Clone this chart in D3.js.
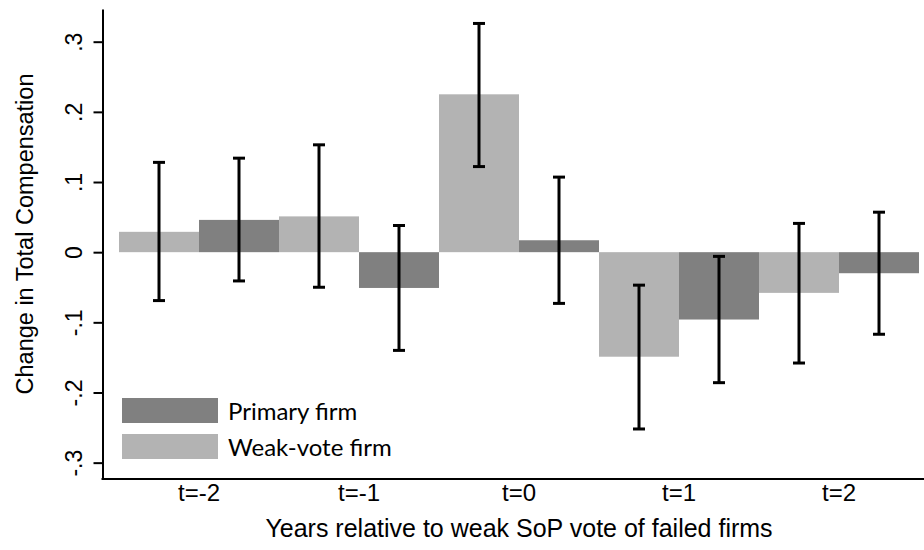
<!DOCTYPE html>
<html>
<head>
<meta charset="utf-8">
<script src="https://cdn.jsdelivr.net/npm/d3@7"></script>
<style>
  body { margin: 0; background: #fff; }
  svg { display: block; }
  text { font-family: "Liberation Sans", Arial, sans-serif; fill: #000; }
</style>
</head>
<body>
<div id="root"></div>
<script>
// data
const periods = ["t=-2", "t=-1", "t=0", "t=1", "t=2"];
const series = ["weak", "primary"];
const seriesNames = { primary: "Primary firm", weak: "Weak-vote firm" };

const weakVals = [0.029, 0.051, 0.225, -0.149, -0.058];
const weakLo   = [-0.069, -0.050, 0.122, -0.252, -0.158];
const weakHi   = [0.128, 0.153, 0.326, -0.047, 0.041];

const primaryVals = [0.046, -0.051, 0.017, -0.096, -0.030];
const primaryLo   = [-0.041, -0.140, -0.073, -0.186, -0.117];
const primaryHi   = [0.134, 0.038, 0.107, -0.006, 0.057];

const yTicks = [-0.3, -0.2, -0.1, 0, 0.1, 0.2, 0.3];
const yTickLabels = ["-.3", "-.2", "-.1", "0", ".1", ".2", ".3"];

const colors = { primary: "#808080", weak: "#b3b3b3" };

const width = 924;
const height = 550;

const svg = d3.select("#root")
  .append("svg")
    .attr("width", width)
    .attr("height", height);

const xScale = d3.scaleBand()
  .domain(periods)
  .range([119, 919])
  .padding(0);

const subScale = d3.scaleBand()
  .domain(series)
  .range([0, xScale.bandwidth()])
  .padding(0);

const yScale = d3.scaleLinear()
  .domain([-0.3233, 0.3466])
  .range([479, 9]);

const rows = [];
periods.forEach((p, i) => {
  rows.push({ period: p, key: "weak", value: weakVals[i], lo: weakLo[i], hi: weakHi[i] });
  rows.push({ period: p, key: "primary", value: primaryVals[i], lo: primaryLo[i], hi: primaryHi[i] });
});

// bars
svg.append("g")
  .selectAll("rect")
  .data(rows)
  .enter()
  .append("rect")
    .attr("x", d => xScale(d.period) + subScale(d.key))
    .attr("width", subScale.bandwidth())
    .attr("y", d => yScale(Math.max(0, d.value)))
    .attr("height", d => Math.abs(yScale(d.value) - yScale(0)))
    .attr("fill", d => colors[d.key]);

// error bars
const capW = 6;
const errG = svg.append("g")
  .attr("stroke", "#000")
  .attr("stroke-width", 3);
const cx = d => xScale(d.period) + subScale(d.key) + subScale.bandwidth() / 2;

errG.selectAll("line.err")
  .data(rows)
  .enter()
  .append("line")
    .attr("class", "err")
    .attr("x1", cx).attr("x2", cx)
    .attr("y1", d => yScale(d.lo))
    .attr("y2", d => yScale(d.hi));
errG.selectAll("line.capHi")
  .data(rows)
  .enter()
  .append("line")
    .attr("class", "capHi")
    .attr("x1", d => cx(d) - capW).attr("x2", d => cx(d) + capW)
    .attr("y1", d => yScale(d.hi)).attr("y2", d => yScale(d.hi));
errG.selectAll("line.capLo")
  .data(rows)
  .enter()
  .append("line")
    .attr("class", "capLo")
    .attr("x1", d => cx(d) - capW).attr("x2", d => cx(d) + capW)
    .attr("y1", d => yScale(d.lo)).attr("y2", d => yScale(d.lo));

// y axis
const yAxis = svg.append("g")
  .attr("transform", "translate(102.5,0)")
  .call(d3.axisLeft(yScale)
    .tickValues(yTicks)
    .tickFormat((d, i) => yTickLabels[i])
    .tickSize(9)
    .tickSizeOuter(0));
yAxis.select(".domain").attr("stroke-width", 2);
yAxis.selectAll(".tick line").attr("stroke-width", 2);
yAxis.selectAll(".tick text")
  .attr("x", 0).attr("y", 0)
  .attr("dy", 0)
  .attr("transform", "translate(-20.5,0)rotate(-90)")
  .attr("text-anchor", "middle")
  .style("font-size", "23px")
  .style("font-family", "'Liberation Sans', Arial, sans-serif");

// x axis
const xAxis = svg.append("g")
  .attr("transform", "translate(0,479)")
  .call(d3.axisBottom(xScale).tickSize(0));
xAxis.select(".domain").remove();
xAxis.append("line")
  .attr("x1", 101.5).attr("x2", width)
  .attr("stroke", "#000")
  .attr("stroke-width", 2);
xAxis.selectAll(".tick text")
  .attr("y", 22)
  .attr("dy", 0)
  .style("font-size", "24px")
  .style("font-family", "'Liberation Sans', Arial, sans-serif");

// titles
svg.append("text")
  .text("Years relative to weak SoP vote of failed firms")
  .attr("transform", "translate(519,537)")
  .attr("text-anchor", "middle")
  .style("font-size", "25px");
svg.append("text")
  .text("Change in Total Compensation")
  .attr("transform", "translate(33,234)rotate(-90)")
  .attr("text-anchor", "middle")
  .style("font-size", "23.5px");

// legend
const legendKeys = ["primary", "weak"];
const legend = svg.append("g")
  .selectAll("g")
  .data(legendKeys)
  .enter()
  .append("g")
    .attr("transform", (d, i) => `translate(122,${398 + i * 36})`);
legend.append("rect")
  .attr("width", 96)
  .attr("height", 25)
  .attr("fill", d => colors[d]);
legend.append("text")
  .text(d => seriesNames[d])
  .attr("x", 106)
  .attr("y", 22)
  .style("font-family", "Lato, 'Open Sans', sans-serif")
  .style("font-size", "24px");
</script>
</body>
</html>
